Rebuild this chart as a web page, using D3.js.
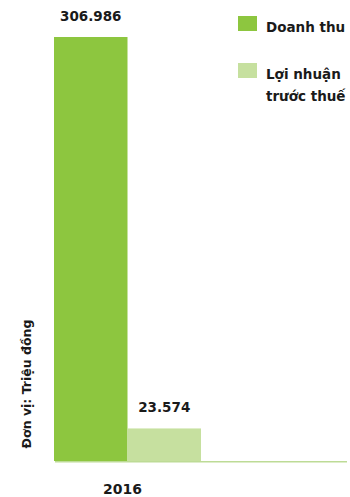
<!DOCTYPE html>
<html>
<head>
<meta charset="utf-8">
<script src="https://cdn.jsdelivr.net/npm/d3@7"></script>
<style>
  html, body { margin: 0; padding: 0; background: #fff; }
  svg { display: block; }
  text { font-family: "DejaVu Sans", sans-serif; font-weight: bold; fill: #1a1a1a; }
</style>
</head>
<body>
<svg id="chart" width="350" height="497"></svg>
<script>
// Doanh thu và lợi nhuận trước thuế (triệu đồng)
const years = ["2016"];
const seriesNames = ["Doanh thu", "Lợi nhuận trước thuế"];
const legendLines = [["Doanh thu"], ["Lợi nhuận", "trước thuế"]];
const revenue = [306986];
const profitBeforeTax = [23574];
const valueLabels = [["306.986", "23.574"]];
const unitLabel = "Đơn vị: Triệu đồng";
const colors = ["#8dc63f", "#c6e09f"];

const svg = d3.select("#chart");
const baseY = 461;
const topY = 37;

const x0 = d3.scaleBand().domain(years).range([54, 201]).padding(0);
const x1 = d3.scaleBand().domain(seriesNames).range([0, x0.bandwidth()]).padding(0);
const y = d3.scaleLinear().domain([0, d3.max(revenue)]).range([baseY, topY]);

const rows = years.map((yr, i) => ({
  year: yr,
  values: [
    { name: seriesNames[0], value: revenue[i], label: valueLabels[i][0] },
    { name: seriesNames[1], value: profitBeforeTax[i], label: valueLabels[i][1] }
  ]
}));
const color = d3.scaleOrdinal().domain(seriesNames).range(colors);

const groups = svg.selectAll("g.year").data(rows).join("g")
  .attr("class", "year")
  .attr("transform", d => `translate(${x0(d.year)},0)`);

groups.selectAll("rect").data(d => d.values).join("rect")
  .attr("x", d => x1(d.name))
  .attr("width", x1.bandwidth())
  .attr("y", d => y(d.value))
  .attr("height", d => y(0) - y(d.value))
  .attr("fill", d => color(d.name));

groups.selectAll("text.val").data(d => d.values).join("text")
  .attr("class", "val")
  .attr("x", d => x1(d.name) + x1.bandwidth() / 2)
  .attr("y", d => y(d.value) - 16)
  .attr("text-anchor", "middle")
  .style("font-size", "13.5px")
  .text(d => d.label);

// baseline
svg.append("line")
  .attr("x1", 55).attr("x2", 347)
  .attr("y1", baseY + 0.8).attr("y2", baseY + 0.8)
  .attr("stroke", "#bddb96").attr("stroke-width", 1.6);

// year axis
const xAxis = d3.axisBottom(x0).tickSize(0).tickPadding(0);
const axisG = svg.append("g").attr("transform", `translate(-5,${baseY + 33})`).call(xAxis);
axisG.select(".domain").remove();
axisG.selectAll("text")
  .attr("dy", 0)
  .style("font-size", "14px")
  .style("font-family", "\"DejaVu Sans\", sans-serif")
  .style("font-weight", "bold")
  .attr("fill", "#1a1a1a");

// unit label
svg.append("text")
  .attr("transform", `translate(31,${384}) rotate(-90)`)
  .attr("text-anchor", "middle")
  .style("font-size", "12.5px")
  .text(unitLabel);

// legend
const legendTop = [16, 63];
const legend = svg.selectAll("g.legend").data(seriesNames).join("g")
  .attr("class", "legend")
  .attr("transform", (d, i) => `translate(238,${legendTop[i]})`);
legend.append("rect")
  .attr("width", 19).attr("height", 15)
  .attr("fill", d => color(d));
legend.each(function (d, i) {
  const t = d3.select(this).append("text")
    .attr("x", 28).attr("y", 16)
    .style("font-size", "13.5px");
  legendLines[i].forEach((line, j) => {
    t.append("tspan").attr("x", 28).attr("dy", j === 0 ? 0 : 22).text(line);
  });
});
</script>
</body>
</html>
